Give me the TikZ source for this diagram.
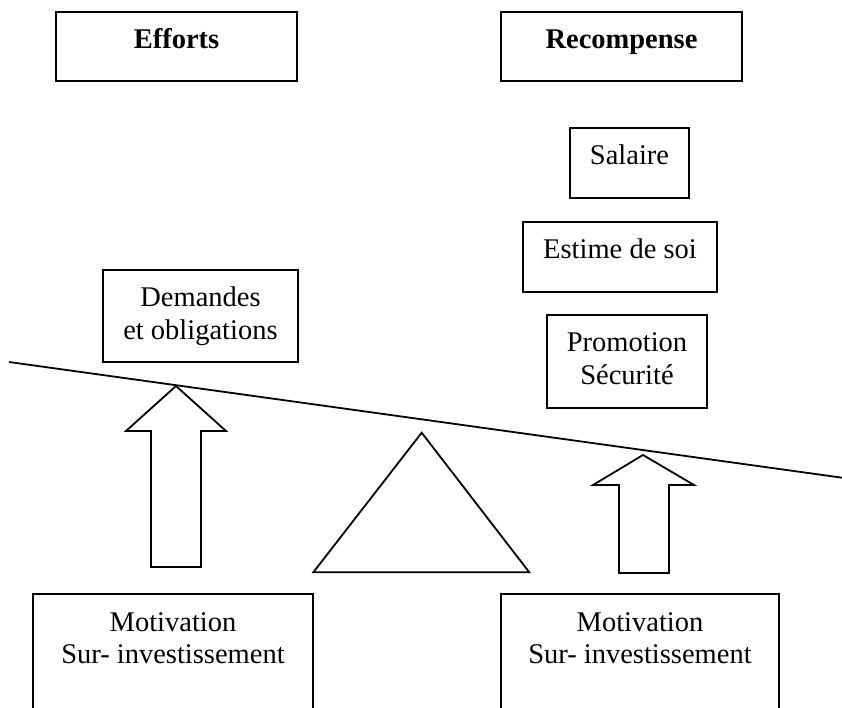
\documentclass[tikz,border=0pt]{standalone}
\usepackage{fontspec}
\setmainfont{Liberation Serif}
\begin{document}
\begin{tikzpicture}[x=1pt,y=-1pt,
  every node/.style={inner sep=0pt, outer sep=0pt},
  box/.style={draw, rectangle, line width=1.8pt},
  txt/.style={align=center, anchor=north,
              font=\fontsize{28.5}{32.5}\selectfont},
  outline/.style={draw, line width=1.8pt, line join=miter}]

% page frame
\useasboundingbox (0,0) rectangle (842,708);
\clip (0,0) rectangle (842,708);

% headings
\node[box, minimum width=241pt, minimum height=69pt] (efforts) at (176.5,46.5) {};
\node[txt] (effortsT) at ([yshift=-14pt]efforts.north) {\strut\textbf{Efforts}};
\node[box, minimum width=241pt, minimum height=69pt] (recomp) at (621.5,46.5) {};
\node[txt] (recompT) at ([yshift=-14pt]recomp.north) {\strut\textbf{Recompense}};

% rewards
\node[box, minimum width=119pt, minimum height=70pt] (salaire) at (629.5,163) {};
\node[txt] (salaireT) at ([yshift=-13.75pt]salaire.north) {\strut Salaire};
\node[box, minimum width=194pt, minimum height=70pt] (estime) at (620,257) {};
\node[txt] (estimeT) at ([yshift=-13.75pt]estime.north) {\strut Estime de soi};
\node[box, minimum width=160pt, minimum height=93pt] (promo) at (627,361.5) {};
\node[txt] (promoT) at ([yshift=-13.75pt]promo.north) {\strut Promotion\\ Sécurité};

% demands
\node[box, minimum width=195pt, minimum height=92pt] (demandes) at (200.5,316) {};
\node[txt] (demandesT) at ([yshift=-13.75pt]demandes.north) {\strut Demandes\\ et obligations};

% motivation boxes (open at the bottom of the page)
\node[box, minimum width=280pt, minimum height=140pt] (motivL) at (173,664) {};
\node[txt] (motivLT) at ([yshift=-14.5pt]motivL.north) {\strut Motivation\\ Sur- investissement};
\node[box, minimum width=278pt, minimum height=140pt] (motivR) at (640,664) {};
\node[txt] (motivRT) at ([yshift=-14.5pt]motivR.north) {\strut Motivation\\ Sur- investissement};

% the tilted beam
\coordinate (beamL) at (9,362);
\coordinate (beamR) at (842,477.7);
\draw[line width=1.8pt] (beamL) -- (beamR);

% fulcrum
\coordinate (apex) at (421.7,432.7);
\draw[outline] (apex) -- (529.3,572.3) -- (313.3,572.3) -- cycle;

% block arrows pushing the beam
\coordinate (tipL) at (176,386);
\draw[outline] (tipL) -- (226,431) -- (201,431) -- (201,567) -- (151,567)
  -- (151,431) -- (126,431) -- cycle;
\coordinate (tipR) at (643,455);
\draw[outline] (tipR) -- (694,485) -- (669,485) -- (669,573) -- (619,573)
  -- (619,485) -- (593,485) -- cycle;
\end{tikzpicture}
\end{document}
